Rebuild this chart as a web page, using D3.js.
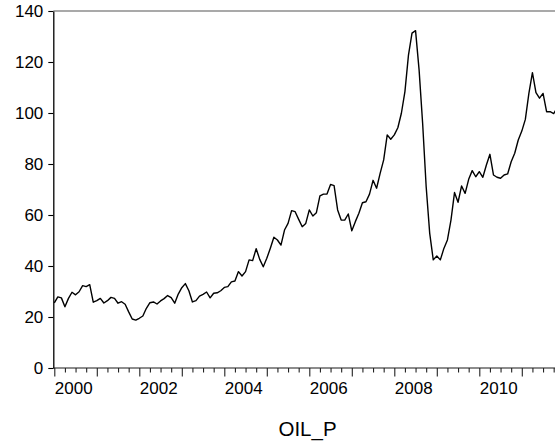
<!DOCTYPE html>
<html>
<head>
<meta charset="utf-8">
<script src="https://cdn.jsdelivr.net/npm/d3@7"></script>
<style>
    body { margin: 0; background: #fff; }
    svg { display: block; font-family: "Liberation Sans", Arial, sans-serif; }
</style>
</head>
<body>
<div id="chart"></div>
<script>
const width = 555;
const height = 441;

// OIL_P, monthly, starting Jan 2000
const firstYear = 2000;
const oil2000 = [25.5, 27.9, 27.5, 24.0, 27.3, 29.7, 28.7, 29.9, 32.3, 31.9, 32.7, 25.8];
const oil2001 = [26.4, 27.3, 25.5, 26.4, 27.7, 27.3, 25.4, 26.0, 25.0, 22.0, 19.2, 18.8];
const oil2002 = [19.5, 20.4, 23.4, 25.6, 25.9, 25.1, 26.3, 27.2, 28.4, 27.6, 25.4, 29.0];
const oil2003 = [31.5, 33.1, 30.3, 25.9, 26.4, 28.2, 28.9, 29.8, 27.5, 29.3, 29.5, 30.3];
const oil2004 = [31.6, 31.9, 33.8, 34.1, 37.8, 36.1, 37.8, 42.4, 42.1, 46.8, 42.6, 39.7];
const oil2005 = [43.0, 47.0, 51.3, 50.2, 48.2, 54.1, 56.7, 61.7, 61.3, 58.3, 55.4, 56.7];
const oil2006 = [62.0, 59.6, 60.9, 67.5, 68.2, 68.2, 72.0, 71.5, 62.0, 58.0, 58.0, 60.4];
const oil2007 = [53.8, 57.4, 60.7, 64.8, 65.2, 68.2, 73.6, 70.5, 76.3, 81.6, 91.4, 89.7];
const oil2008 = [91.4, 94.2, 99.9, 108.4, 122.7, 131.3, 132.3, 116.9, 96.0, 71.1, 52.8, 42.4];
const oil2009 = [43.9, 42.4, 46.9, 50.2, 58.0, 68.8, 65.0, 71.4, 68.5, 74.0, 77.4, 75.0];
const oil2010 = [77.0, 74.8, 79.6, 83.8, 75.7, 74.8, 74.4, 75.7, 76.1, 80.9, 84.2, 89.4];
const oil2011 = [92.9, 97.5, 107.7, 115.8, 108.0, 105.8, 107.7, 100.5, 100.5, 99.8, 102.0];

const yTicks = [0, 20, 40, 60, 80, 100, 120, 140];
const xLabels = ["2000", "2002", "2004", "2006", "2008", "2010"];
const seriesName = "OIL_P";

const oil = [].concat(oil2000, oil2001, oil2002, oil2003, oil2004, oil2005,
    oil2006, oil2007, oil2008, oil2009, oil2010, oil2011);

const plotLeft = 53.3, plotTop = 11, plotBottom = 368;

let svg = d3.select("#chart").append("svg")
    .attr("width", width)
    .attr("height", height)
    .style("background", "#fff");

// month index -> x
let x = d3.scaleLinear()
    .domain([0, 12])
    .range([54.3, 96.8]);
let y = d3.scaleLinear()
    .domain([0, 140])
    .range([plotBottom, plotTop]);

// top frame
svg.append("line")
    .attr("x1", plotLeft).attr("x2", width)
    .attr("y1", plotTop).attr("y2", plotTop)
    .attr("stroke", "#8c8c8c")
    .attr("stroke-width", 1.5);

// x axis: quarterly minor ticks, yearly major ticks, labels every 2 years
const nMonths = 12 * 12;
const minorTicks = d3.range(0, nMonths, 3).filter(m => m % 12 !== 0);
const majorTicks = d3.range(0, nMonths, 12);
const labelTicks = xLabels.map(l => (+l - firstYear) * 12);

let xAxisG = svg.append("g").attr("transform", `translate(0,${plotBottom})`);
xAxisG.append("line")
    .attr("x1", plotLeft).attr("x2", width)
    .attr("stroke", "#666").attr("stroke-width", 1.3);

xAxisG.append("g")
    .call(d3.axisBottom(x).tickValues(minorTicks).tickSize(4.5).tickFormat("").tickSizeOuter(0))
    .call(g => g.select(".domain").remove())
    .call(g => g.selectAll("line").attr("stroke", "#222").attr("stroke-width", 1.1));
xAxisG.append("g")
    .call(d3.axisBottom(x).tickValues(majorTicks).tickSize(8.5).tickFormat("").tickSizeOuter(0))
    .call(g => g.select(".domain").remove())
    .call(g => g.selectAll("line").attr("stroke", "#222").attr("stroke-width", 1.1));
xAxisG.append("g")
    .call(d3.axisBottom(x).tickValues(labelTicks).tickSize(0).tickPadding(0)
        .tickFormat(m => String(firstYear + m / 12)))
    .call(g => g.select(".domain").remove())
    .call(g => g.selectAll("text")
        .attr("text-anchor", "start")
        .attr("dy", null)
        .attr("y", 26)
        .attr("fill", "#000")
        .style("font-size", "17px"));

// y axis
svg.append("g")
    .attr("transform", `translate(${plotLeft},0)`)
    .call(d3.axisLeft(y).tickValues(yTicks).tickSize(5).tickPadding(5).tickSizeOuter(0))
    .call(g => g.select(".domain").attr("stroke", "#000").attr("stroke-width", 1.3))
    .call(g => g.selectAll("line").attr("stroke", "#000").attr("stroke-width", 1.1))
    .call(g => g.selectAll("text")
        .attr("fill", "#000")
        .attr("dy", "0.35em")
        .style("font-size", "17px"));

// series line
let line = d3.line()
    .x((d, i) => x(i))
    .y(d => y(d));

svg.append("path")
    .datum(oil)
    .attr("fill", "none")
    .attr("stroke", "#000")
    .attr("stroke-width", 1.4)
    .attr("stroke-linejoin", "round")
    .attr("d", line);

// series name below axis
svg.append("text")
    .attr("x", 307.5)
    .attr("y", 436)
    .attr("text-anchor", "middle")
    .style("font-size", "20.5px")
    .attr("fill", "#000")
    .text(seriesName);
</script>
</body>
</html>
